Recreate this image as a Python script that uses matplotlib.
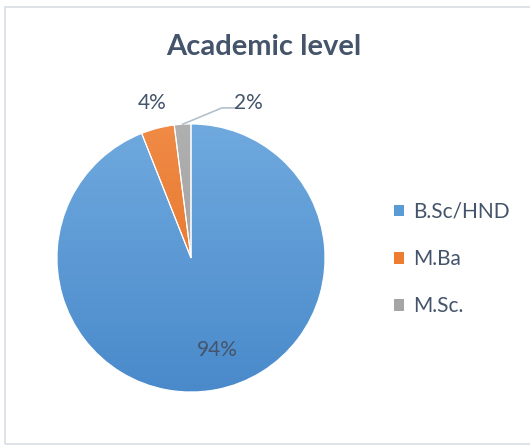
import numpy as np
import matplotlib
matplotlib.use("Agg")
from matplotlib import pyplot as plt
from matplotlib.patches import Rectangle

LABELS = ["B.Sc/HND", "M.Ba", "M.Sc."]
VALUES = [94, 4, 2]
PCT_TEXT = ["94%", "4%", "2%"]

TOP_COLS = ["#6fa9de", "#f08a45", "#b0b0b0"]
BOT_COLS = ["#4a8acb", "#e06e22", "#979797"]
FLAT_COLS = ["#5b9bd5", "#ed7d31", "#a5a5a5"]
TXT = "#44546a"

plt.rcParams["font.family"] = ["Lato", "DejaVu Sans"]

W, H = 530, 446
fig = plt.figure(figsize=(W / 100, H / 100), dpi=100)

# chart frame
fig.patches.append(Rectangle((5 / W, 2 / H), 530 / W, 437 / H, transform=fig.transFigure,
                             fill=False, edgecolor="#d9dee5", linewidth=1.2))

fig.text(264 / W, 1 - 47 / H, "Academic level", ha="center", va="center",
         fontsize=21, fontweight="bold", color=TXT)

cx, cy, r = 191, 258, 134
ax = fig.add_axes([(cx - r) / W, (H - cy - r) / H, 2 * r / W, 2 * r / H])

wedges, _ = ax.pie(VALUES, startangle=90, counterclock=False, radius=1,
                   colors=FLAT_COLS, wedgeprops=dict(edgecolor="white", linewidth=0.8))
ax.set_aspect("equal")
ax.axis("off")

# vertical gradient fill per slice
for w, c1, c2 in zip(wedges, TOP_COLS, BOT_COLS):
    a = np.array(matplotlib.colors.to_rgb(c1))
    b = np.array(matplotlib.colors.to_rgb(c2))
    t = np.linspace(0, 1, 256)[:, None]
    grad = (a * (1 - t) + b * t)[:, None, :]
    im = ax.imshow(grad, extent=(-1, 1, -1, 1), origin="upper", aspect="auto", zorder=1)
    im.set_clip_path(w)
    w.set_facecolor("none")
    w.set_zorder(2)
ax.set_xlim(-1, 1)
ax.set_ylim(-1, 1)

# data labels
ang = np.cumsum([0] + VALUES) / sum(VALUES) * 360
mids = [90 - (ang[i] + ang[i + 1]) / 2 for i in range(len(VALUES))]

ax.text(0.2, -0.69, PCT_TEXT[0], ha="center", va="center", fontsize=15, color=TXT)
ax.text(-0.29, 1.16, PCT_TEXT[1], ha="center", va="center", fontsize=15, color=TXT,
        clip_on=False)
m = np.deg2rad(mids[2])
ax.plot([np.cos(m), 0.23, 0.33], [np.sin(m), 1.12, 1.12], color="#b4c0cc",
        linewidth=1.2, clip_on=False, zorder=3)
ax.text(0.43, 1.16, PCT_TEXT[2], ha="center", va="center", fontsize=15, color=TXT,
        clip_on=False)

leg = ax.legend(wedges, LABELS, loc="center left", bbox_to_anchor=(375 / W, 1 - 259 / H),
                bbox_transform=fig.transFigure, frameon=False, fontsize=15,
                handlelength=0.5, handleheight=0.5, handletextpad=0.45, labelspacing=1.3)
for h, c in zip(leg.legend_handles, FLAT_COLS):
    h.set_facecolor(c)
    h.set_edgecolor("none")
for t in leg.get_texts():
    t.set_color(TXT)

fig.savefig("out.png", dpi=100)
